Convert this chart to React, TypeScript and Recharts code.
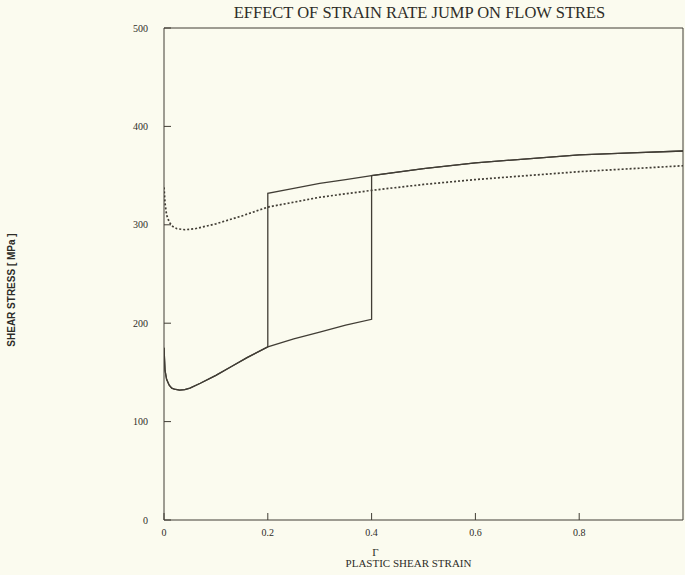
import React from "react";
import { LineChart, Line, XAxis, YAxis, Label } from "recharts";

// plastic shear strain / shear stress (MPa)
const strainLow = [0, 0.002, 0.005, 0.01, 0.015, 0.02, 0.03, 0.04, 0.05, 0.07, 0.1, 0.13, 0.16, 0.2, 0.25, 0.3, 0.35, 0.4];
const stressLow = [175, 152, 143, 137, 134, 133, 132, 132.5, 134, 139, 147, 156, 165, 176, 184, 191, 198, 204];
const strainHigh = [0.2, 0.25, 0.3, 0.35, 0.4, 0.5, 0.6, 0.7, 0.8, 0.9, 1.0];
const stressHigh = [332, 337, 342, 346, 350, 357, 363, 367, 371, 373, 375];
const strainRef = [0, 0.002, 0.005, 0.01, 0.015, 0.025, 0.04, 0.06, 0.1, 0.15, 0.2, 0.25, 0.3, 0.4, 0.5, 0.6, 0.7, 0.8, 0.9, 1.0];
const stressRef = [338, 322, 310, 303, 299, 296, 295, 296, 301, 309, 318, 323, 328, 335, 341, 346, 350, 354, 357, 360];

const xTicks = [0, 0.2, 0.4, 0.6, 0.8];
const yTicks = [0, 100, 200, 300, 400, 500];
const jumpStrains = [0.2, 0.4];

const title = "EFFECT OF STRAIN RATE JUMP ON FLOW STRES";
const xLabel = "PLASTIC SHEAR STRAIN";
const xSymbol = "Γ";
const yLabel = "SHEAR STRESS [ MPa ]";

const toPoints = (xs: number[], ys: number[]) => xs.map((x, i) => ({ x, y: ys[i] }));
const lowPts = toPoints(strainLow, stressLow);
const highPts = toPoints(strainHigh, stressHigh);
const refPts = toPoints(strainRef, stressRef);
const jumpSeries = jumpStrains.map((j) => [
  ...lowPts.filter((p) => p.x <= j),
  ...highPts.filter((p) => p.x >= j),
]);

const INK = "#413d35";
const TXT = "#2e2d28";
const BG = "#fbfbef";
const serif = "'Liberation Serif', 'Times New Roman', serif";

export default function App() {
  return (
    <div style={{ position: "absolute", left: 0, top: 0, width: 685, height: 575, background: BG }}>
      <LineChart width={685} height={575} data={refPts} margin={{ top: 27, right: 1, bottom: 25, left: 124 }}>
        <XAxis
          xAxisId="b"
          type="number"
          dataKey="x"
          domain={[0, 1]}
          ticks={xTicks}
          tickFormatter={(v: number) => String(v)}
          height={30}
          stroke={INK}
          tickSize={-7}
          tickMargin={16}
          tick={{ fill: TXT, fontSize: 10, fontFamily: serif }}
          allowDataOverflow
        >
          <Label
            content={(p: any) => {
              const vb = p.viewBox;
              const cx = vb.x + vb.width / 2 - 15;
              return (
                <g>
                  <text x={cx - 33} y={vb.y + 36} fontSize={11} fontFamily={serif} fill={TXT} textAnchor="middle">{xSymbol}</text>
                  <text x={cx} y={vb.y + 47} fontSize={11} fontFamily={serif} fill={TXT} textAnchor="middle">{xLabel}</text>
                </g>
              );
            }}
          />
        </XAxis>
        <XAxis
          xAxisId="t"
          orientation="top"
          type="number"
          dataKey="x"
          domain={[0, 1]}
          ticks={xTicks}
          height={1}
          stroke={INK}
          tickSize={-7}
          tick={false}
          allowDataOverflow
        >
          <Label
            content={(p: any) => {
              const vb = p.viewBox;
              return (
                <text x={vb.x + vb.width / 2 - 4} y={vb.y - 9} fontSize={16.5} fontFamily={serif} fill={TXT} textAnchor="middle">
                  {title}
                </text>
              );
            }}
          />
        </XAxis>
        <YAxis
          yAxisId="l"
          type="number"
          domain={[0, 500]}
          ticks={yTicks}
          width={40}
          stroke={INK}
          tickSize={-7}
          tickMargin={23}
          tick={{ fill: TXT, fontSize: 10, fontFamily: serif }}
          allowDataOverflow
        >
          <Label
            content={(p: any) => {
              const vb = p.viewBox;
              const cx = 15;
              const cy = vb.y + vb.height / 2 + 16;
              return (
                <text
                  x={cx}
                  y={cy}
                  fontSize={10}
                  fontWeight="bold"
                  fontFamily="'Liberation Sans', Arial, sans-serif"
                  fill={TXT}
                  textAnchor="middle"
                  transform={`rotate(-90 ${cx} ${cy})`}
                >
                  {yLabel}
                </text>
              );
            }}
          />
        </YAxis>
        <YAxis
          yAxisId="r"
          orientation="right"
          type="number"
          domain={[0, 500]}
          ticks={yTicks}
          width={1}
          stroke={INK}
          tickSize={-7}
          tick={false}
          allowDataOverflow
        />
        <Line
          xAxisId="b"
          yAxisId="l"
          data={refPts}
          dataKey="y"
          type="linear"
          stroke={INK}
          strokeWidth={1.7}
          strokeDasharray="2 2"
          dot={false}
          isAnimationActive={false}
        />
        {jumpSeries.map((pts, i) => (
          <Line
            key={i}
            xAxisId="b"
            yAxisId="l"
            data={pts}
            dataKey="y"
            type="linear"
            stroke={INK}
            strokeWidth={1.3}
            dot={false}
            isAnimationActive={false}
          />
        ))}
      </LineChart>
    </div>
  );
}
